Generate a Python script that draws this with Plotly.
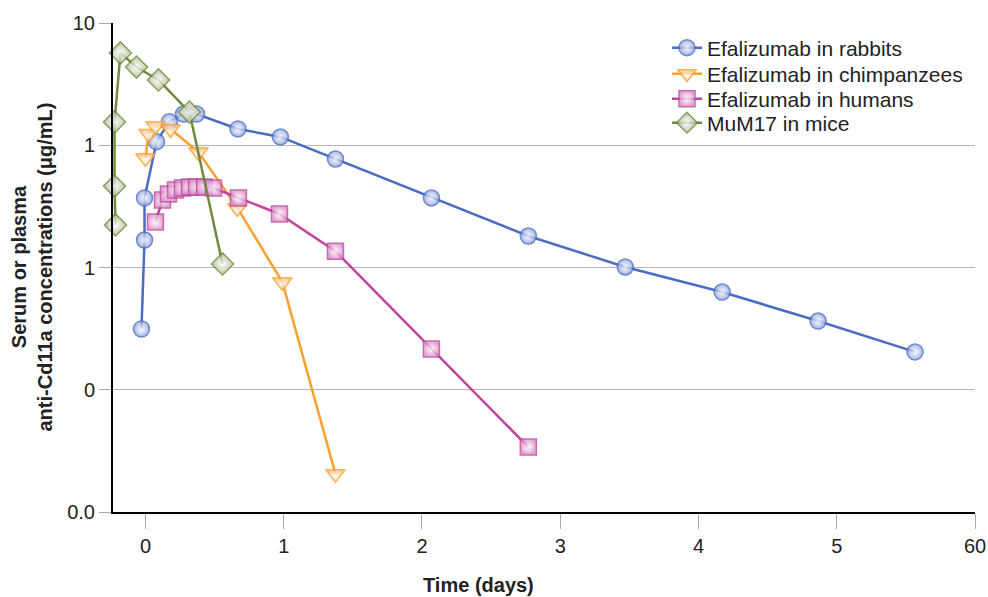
import plotly.graph_objects as go

# ---- data (x in displayed axis units, y in µg/mL on log scale) ----
rabbit_x = [-0.029, -0.007, -0.007, 0.08, 0.173, 0.275, 0.369, 0.669, 0.976, 1.374, 2.068, 2.769, 3.47, 4.171, 4.865, 5.566]
rabbit_y = [0.314, 1.68, 3.71, 10.7, 15.6, 18.0, 18.0, 13.6, 11.7, 7.72, 3.71, 1.81, 1.01, 0.63, 0.365, 0.204]

chimp_x = [0.0, 0.022, 0.072, 0.181, 0.383, 0.665, 0.99, 1.374]
chimp_y = [7.87, 12.4, 14.4, 13.6, 8.8, 3.07, 0.76, 0.0205]

human_x = [0.072, 0.123, 0.166, 0.217, 0.267, 0.318, 0.369, 0.427, 0.492, 0.672, 0.969, 1.374, 2.068, 2.769]
human_y = [2.36, 3.56, 3.99, 4.31, 4.47, 4.55, 4.55, 4.55, 4.47, 3.71, 2.74, 1.36, 0.215, 0.034]

mice_x = [-0.217, -0.224, -0.224, -0.181, -0.065, 0.094, 0.318, 0.557]
mice_y = [2.23, 4.64, 15.5, 56.9, 43.6, 34.2, 18.7, 1.07]

x_tickvals = [0, 1, 2, 3, 4, 5, 6]
x_ticktext = ["0", "1", "2", "3", "4", "5", "60"]
y_tickvals = [0.01, 0.1, 1, 10, 100]
y_ticktext = ["0.0", "0", "1", "1", "10"]

series = [
    ("Efalizumab in rabbits", rabbit_x, rabbit_y, "circle", 16, "#4a6cc4", "#8ea2dc"),
    ("Efalizumab in chimpanzees", chimp_x, chimp_y, "triangle-down", 17, "#f8a230", "#fbbd78"),
    ("Efalizumab in humans", human_x, human_y, "square", 16, "#c2449e", "#d98cc6"),
    ("MuM17 in mice", mice_x, mice_y, "diamond", 17, "#6e8a3a", "#a9b78f"),
]

FONT = "Liberation Sans, Arial, Helvetica, sans-serif"
PLOT_L, PLOT_R, PLOT_T, PLOT_B = 113, 975, 23, 512
PW, PH = PLOT_R - PLOT_L, PLOT_B - PLOT_T
legend_rows_px = [48, 74, 99, 123]

fig = go.Figure()
legend_layout = {}
for i, (name, xs, ys, sym, size, lc, fc) in enumerate(series):
    lg = "legend" if i == 0 else f"legend{i + 1}"
    fig.add_trace(go.Scatter(
        x=xs, y=ys, mode="lines+markers", name=name, legend=lg,
        line=dict(color=lc, width=2.5),
        marker=dict(symbol=sym, size=size, color=fc, opacity=0.8,
                    line=dict(color=lc, width=1.5),
                    gradient=dict(type="radial", color="#ffffff")),
        cliponaxis=False,
    ))
    legend_layout[lg] = dict(
        x=(667 - PLOT_L) / PW, y=(PLOT_B - legend_rows_px[i]) / PH,
        xanchor="left", yanchor="middle",
        bgcolor="rgba(0,0,0,0)", font=dict(size=21, family=FONT, color="#222222"),
    )

fig.update_layout(
    width=988, height=597,
    margin=dict(l=PLOT_L, r=988 - PLOT_R, t=PLOT_T, b=597 - PLOT_B, autoexpand=False),
    paper_bgcolor="white", plot_bgcolor="white",
    font=dict(family=FONT, size=20, color="#222222"),
    showlegend=True,
    xaxis=dict(range=[-0.235, 6], tickvals=x_tickvals, ticktext=x_ticktext,
               ticks="outside", ticklen=15, tickcolor="#aaaaaa", tickwidth=1,
               showline=True, linecolor="black", linewidth=2,
               showgrid=False, zeroline=False, automargin=False),
    yaxis=dict(type="log", range=[-2, 2], tickvals=y_tickvals, ticktext=y_ticktext,
               ticks="outside", ticklen=12, tickcolor="#aaaaaa", tickwidth=1,
               showline=True, linecolor="black", linewidth=2,
               showgrid=True, gridcolor="#b8b8b8", gridwidth=1, zeroline=False,
               automargin=False),
    annotations=[
        dict(text="<b>Time (days)</b>", xref="paper", yref="paper",
             x=(478 - PLOT_L) / PW, y=-0.149, xanchor="center", yanchor="middle",
             showarrow=False, font=dict(size=20, family=FONT, color="#222222")),
        dict(text="<b>Serum or plasma<br>anti-Cd11a concentrations (μg/mL)</b>",
             xref="paper", yref="paper", x=(31 - PLOT_L) / PW, y=0.5,
             xanchor="center", yanchor="middle", textangle=-90,
             showarrow=False, font=dict(size=20, family=FONT, color="#222222")),
    ],
    **legend_layout,
)

fig.write_html("out.html")
